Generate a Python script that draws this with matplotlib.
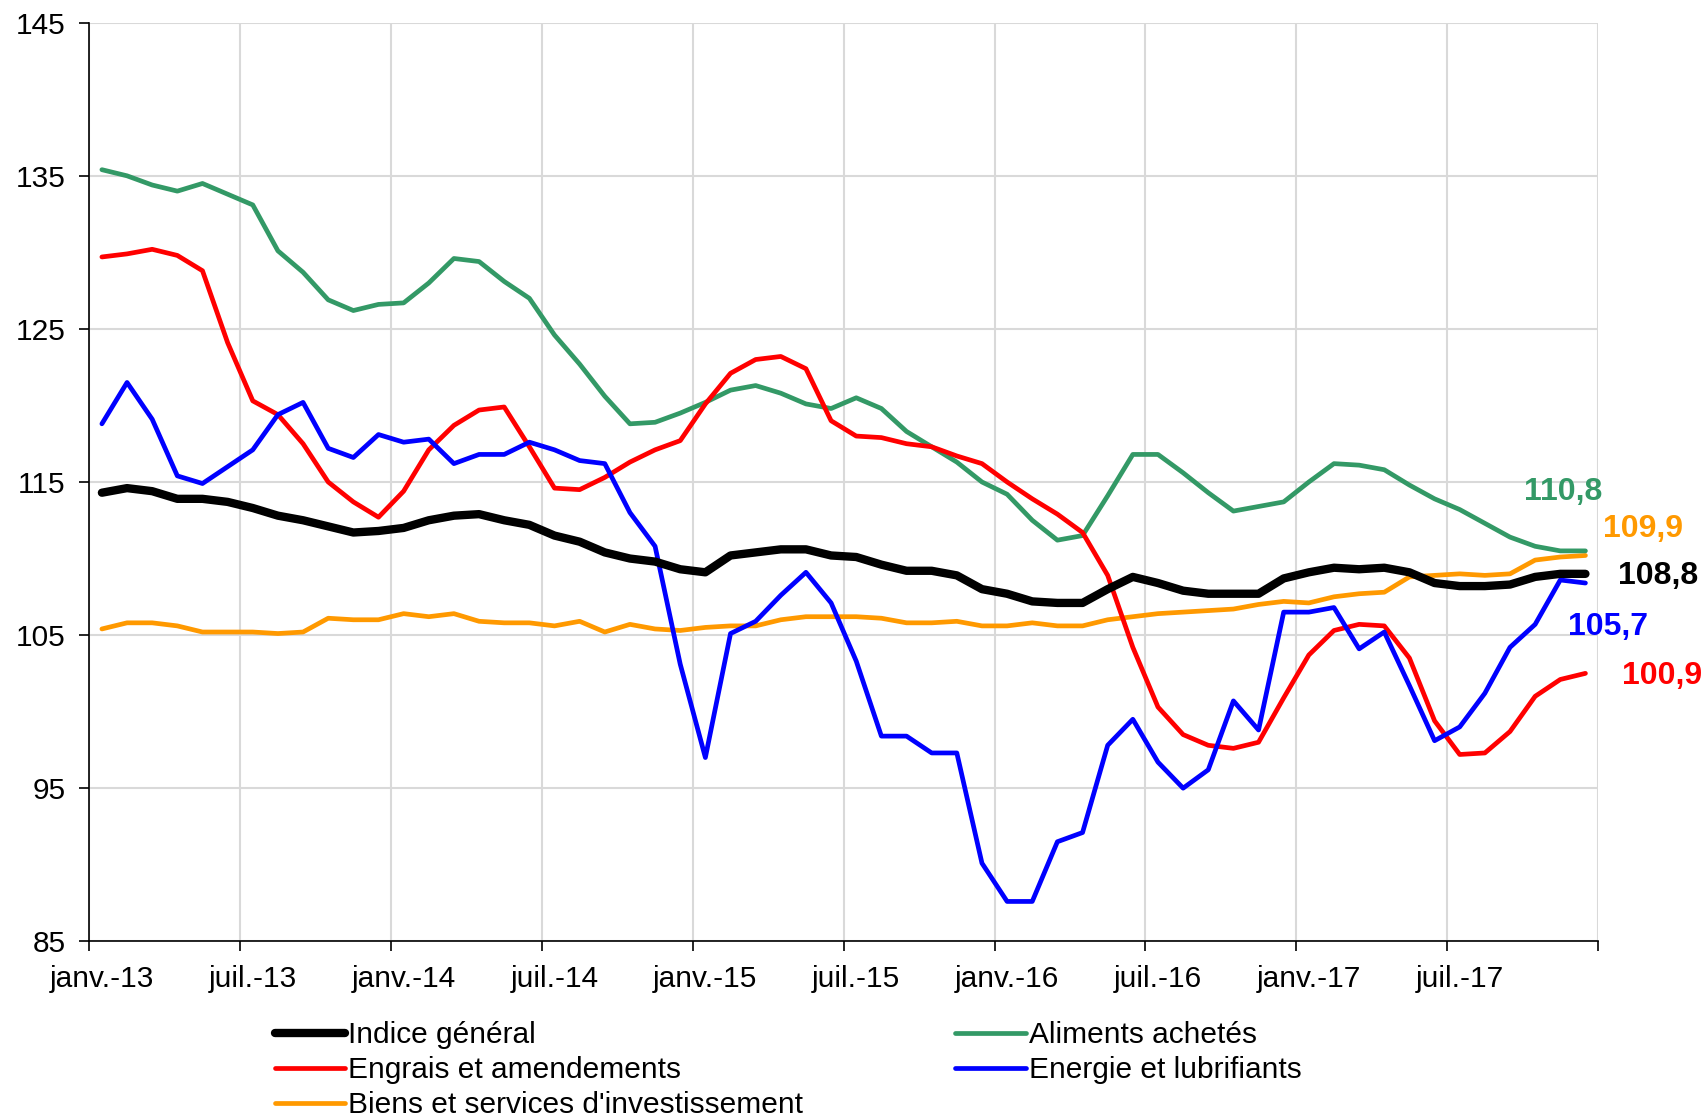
import matplotlib
matplotlib.use("Agg")
import matplotlib.pyplot as plt
import numpy as np

plt.rcParams['font.family'] = ['Liberation Sans', 'DejaVu Sans']

# monthly indices, janv. 2013 -> déc. 2017
indice_general = [114.3, 114.6, 114.4, 113.9, 113.9, 113.7, 113.3, 112.8, 112.5, 112.1,
                  111.7, 111.8, 112.0, 112.5, 112.8, 112.9, 112.5, 112.2, 111.5, 111.1,
                  110.4, 110.0, 109.8, 109.3, 109.1, 110.2, 110.4, 110.6, 110.6, 110.2,
                  110.1, 109.6, 109.2, 109.2, 108.9, 108.0, 107.7, 107.2, 107.1, 107.1,
                  108.0, 108.8, 108.4, 107.9, 107.7, 107.7, 107.7, 108.7, 109.1, 109.4,
                  109.3, 109.4, 109.1, 108.4, 108.2, 108.2, 108.3, 108.8, 109.0, 109.0]
aliments = [135.4, 135.0, 134.4, 134.0, 134.5, 133.8, 133.1, 130.1, 128.7, 126.9,
            126.2, 126.6, 126.7, 128.0, 129.6, 129.4, 128.1, 127.0, 124.6, 122.7,
            120.6, 118.8, 118.9, 119.5, 120.2, 121.0, 121.3, 120.8, 120.1, 119.8,
            120.5, 119.8, 118.3, 117.3, 116.3, 115.0, 114.2, 112.5, 111.2, 111.5,
            114.1, 116.8, 116.8, 115.6, 114.3, 113.1, 113.4, 113.7, 115.0, 116.2,
            116.1, 115.8, 114.8, 113.9, 113.2, 112.3, 111.4, 110.8, 110.5, 110.5]
engrais = [129.7, 129.9, 130.2, 129.8, 128.8, 124.1, 120.3, 119.4, 117.5, 115.0,
           113.7, 112.7, 114.4, 117.1, 118.7, 119.7, 119.9, 117.3, 114.6, 114.5,
           115.3, 116.3, 117.1, 117.7, 120.1, 122.1, 123.0, 123.2, 122.4, 119.0,
           118.0, 117.9, 117.5, 117.3, 116.7, 116.2, 115.0, 113.9, 112.9, 111.7,
           108.9, 104.2, 100.3, 98.5, 97.8, 97.6, 98.0, 100.9, 103.7, 105.3,
           105.7, 105.6, 103.5, 99.4, 97.2, 97.3, 98.7, 101.0, 102.1, 102.5]
energie = [118.8, 121.5, 119.1, 115.4, 114.9, 116.0, 117.1, 119.4, 120.2, 117.2,
           116.6, 118.1, 117.6, 117.8, 116.2, 116.8, 116.8, 117.6, 117.1, 116.4,
           116.2, 113.0, 110.8, 103.1, 97.0, 105.1, 105.9, 107.6, 109.1, 107.1,
           103.3, 98.4, 98.4, 97.3, 97.3, 90.1, 87.6, 87.6, 91.5, 92.1,
           97.8, 99.5, 96.7, 95.0, 96.2, 100.7, 98.8, 106.5, 106.5, 106.8,
           104.1, 105.2, 101.7, 98.1, 99.0, 101.2, 104.2, 105.7, 108.6, 108.4]
biens = [105.4, 105.8, 105.8, 105.6, 105.2, 105.2, 105.2, 105.1, 105.2, 106.1,
         106.0, 106.0, 106.4, 106.2, 106.4, 105.9, 105.8, 105.8, 105.6, 105.9,
         105.2, 105.7, 105.4, 105.3, 105.5, 105.6, 105.6, 106.0, 106.2, 106.2,
         106.2, 106.1, 105.8, 105.8, 105.9, 105.6, 105.6, 105.8, 105.6, 105.6,
         106.0, 106.2, 106.4, 106.5, 106.6, 106.7, 107.0, 107.2, 107.1, 107.5,
         107.7, 107.8, 108.8, 108.9, 109.0, 108.9, 109.0, 109.9, 110.1, 110.2]

tick_labels = ['janv.-13', 'juil.-13', 'janv.-14', 'juil.-14', 'janv.-15',
               'juil.-15', 'janv.-16', 'juil.-16', 'janv.-17', 'juil.-17']

end_labels = ['110,8', '109,9', '108,8', '105,7', '100,9']

months = np.arange(len(indice_general))

fig = plt.figure(figsize=(17.08, 11.2), dpi=100)
ax = fig.add_axes([0.0523, 0.1596, 0.8833, 0.8201])

green = '#339966'
red = '#FF0000'
blue = '#0000FF'
orange = '#FF9900'

kw = dict(solid_joinstyle='round', solid_capstyle='round')
ax.plot(months, biens, color=orange, lw=3.4, label="Biens et services d'investissement", zorder=3, **kw)
ax.plot(months, aliments, color=green, lw=3.4, label='Aliments achetés', zorder=3, **kw)
ax.plot(months, engrais, color=red, lw=3.4, label='Engrais et amendements', zorder=4, **kw)
ax.plot(months, energie, color=blue, lw=3.4, label='Energie et lubrifiants', zorder=5, **kw)
ax.plot(months, indice_general, color='black', lw=6, label='Indice général', zorder=6, **kw)

ax.set_xlim(-0.5, 59.5)
ax.set_ylim(85, 145)
ax.set_yticks(np.arange(85, 146, 10))

# labels sit on category centres, ticks and grid on category edges
ax.set_xticks(np.arange(0, 60, 6))
ax.set_xticklabels(tick_labels)
ax.set_xticks(np.arange(-0.5, 60, 6), minor=True)
ax.tick_params(axis='x', which='major', length=0, pad=17, labelsize=21.5)
ax.tick_params(axis='x', which='minor', length=7, width=1.2, direction='out')
ax.tick_params(axis='y', length=7, width=1.2, direction='out', pad=10, labelsize=21.5)

ax.grid(True, axis='y', which='major', color='#d9d9d9', lw=1.5, zorder=0)
ax.grid(True, axis='x', which='minor', color='#d9d9d9', lw=1.5, zorder=0)
ax.grid(False, axis='x', which='major')
ax.set_axisbelow(True)

for s in ['top', 'right']:
    ax.spines[s].set_visible(False)
for s in ['left', 'bottom']:
    ax.spines[s].set_linewidth(1.2)
    ax.spines[s].set_zorder(7)

# end-of-series values
ax.text(58.1, 114.35, end_labels[0], color=green, fontsize=23, fontweight='bold',
        ha='center', va='center', clip_on=False)
ax.text(61.3, 111.9, end_labels[1], color=orange, fontsize=23, fontweight='bold',
        ha='center', va='center', clip_on=False)
ax.text(61.9, 108.85, end_labels[2], color='black', fontsize=23, fontweight='bold',
        ha='center', va='center', clip_on=False)
ax.text(59.9, 105.5, end_labels[3], color=blue, fontsize=23, fontweight='bold',
        ha='center', va='center', clip_on=False)
ax.text(62.05, 102.3, end_labels[4], color=red, fontsize=23, fontweight='bold',
        ha='center', va='center', clip_on=False)

handles, labels = ax.get_legend_handles_labels()
order = ['Indice général', 'Engrais et amendements', "Biens et services d'investissement",
         'Aliments achetés', 'Energie et lubrifiants']
hmap = dict(zip(labels, handles))
fig.legend([hmap[k] for k in order], order, ncol=2, loc='upper left',
           bbox_to_anchor=(275 / 1708, 1 - 1021 / 1120), frameon=False,
           fontsize=21.5, handlelength=2.35, handletextpad=0.1, columnspacing=5.1,
           labelspacing=0.24, borderpad=0, borderaxespad=0)

fig.savefig('out.png', dpi=100)
